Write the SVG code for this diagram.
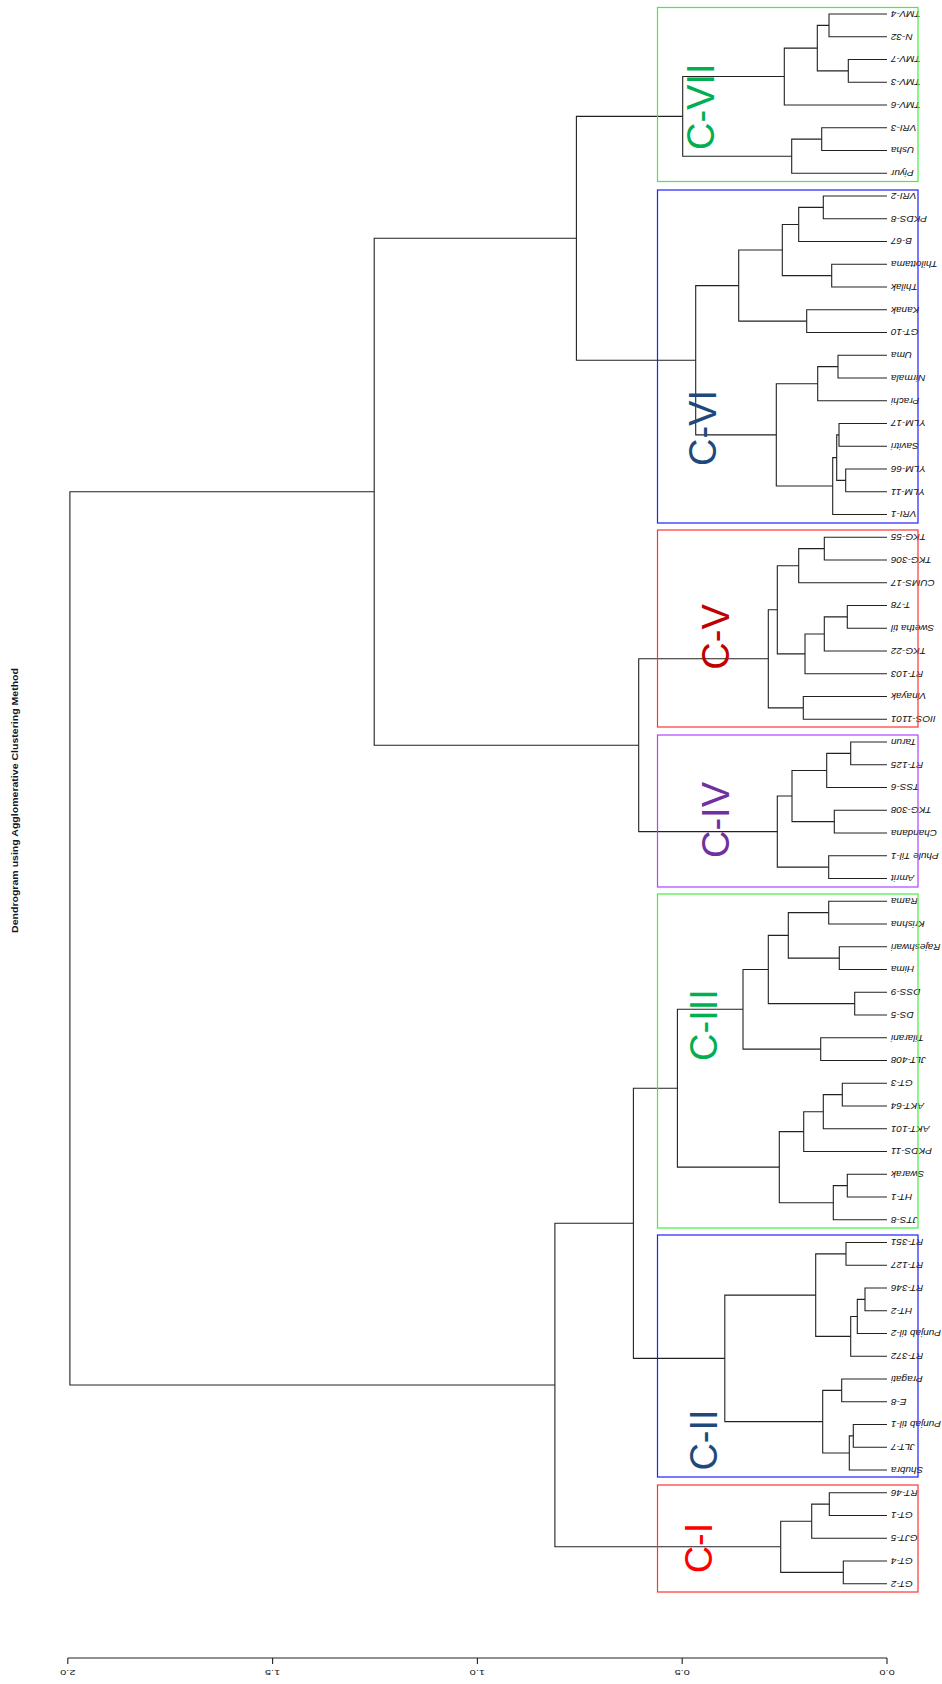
<svg xmlns="http://www.w3.org/2000/svg" width="942" height="1684" viewBox="0 0 942 1684">
<style>
.bg{fill:#fff}
.ln{fill:none;stroke:#222;stroke-width:1.1}
.lbl{font-family:"Liberation Sans",Arial,sans-serif;font-style:italic;font-size:10px;text-anchor:end;fill:#111}
.tick{font-family:"Liberation Sans",Arial,sans-serif;font-size:11px;text-anchor:middle;fill:#111}
.title{font-family:"Liberation Sans",Arial,sans-serif;font-weight:bold;font-size:10.5px;text-anchor:middle;fill:#15152a}
.cl{font-family:"Liberation Sans",Arial,sans-serif;font-size:38px;text-anchor:middle}
.box{fill:none;stroke-width:1.2}
</style>
<rect class="bg" x="0" y="0" width="942" height="1684"/>
<g id="title"><text class="title" transform="translate(18 800.5) rotate(-90) scale(1 0.8)" textLength="265" lengthAdjust="spacingAndGlyphs">Dendrogram using Agglomerative Clustering Method</text></g>
<g id="connectors" class="ln">
<path d="M887 14H829V36.75H887"/>
<path d="M887 59.5H848.3V82.25H887"/>
<path d="M829 25.38H817.3V70.88H848.3"/>
<path d="M817.3 48.13H784.3V105H887"/>
<path d="M887 127.75H821.7V150.5H887"/>
<path d="M821.7 139.13H791.7V173.25H887"/>
<path d="M784.3 76.56H682.7V156.19H791.7"/>
<path d="M887 196H823.3V218.75H887"/>
<path d="M823.3 207.38H798.7V241.5H887"/>
<path d="M887 264.25H831.7V287H887"/>
<path d="M798.7 224.44H782.3V275.63H831.7"/>
<path d="M887 309.75H806.7V332.5H887"/>
<path d="M782.3 250.03H738.7V321.13H806.7"/>
<path d="M887 355.25H838V378H887"/>
<path d="M838 366.63H817.7V400.75H887"/>
<path d="M887 423.5H839V446.25H887"/>
<path d="M887 469H845.7V491.75H887"/>
<path d="M839 434.88H836.7V480.38H845.7"/>
<path d="M836.7 457.63H832.7V514.5H887"/>
<path d="M817.7 383.69H776.3V486.06H832.7"/>
<path d="M738.7 285.58H695.7V434.88H776.3"/>
<path d="M682.7 116.38H576.4V360.23H695.7"/>
<path d="M887 537.25H824.3V560H887"/>
<path d="M824.3 548.63H798.7V582.75H887"/>
<path d="M887 605.5H847.3V628.25H887"/>
<path d="M847.3 616.88H824.3V651H887"/>
<path d="M824.3 633.94H805V673.75H887"/>
<path d="M798.7 565.69H777.3V653.84H805"/>
<path d="M887 696.5H803.3V719.25H887"/>
<path d="M777.3 609.77H768.3V707.88H803.3"/>
<path d="M887 742H850.7V764.75H887"/>
<path d="M850.7 753.38H826.7V787.5H887"/>
<path d="M887 810.25H834.3V833H887"/>
<path d="M826.7 770.44H792V821.63H834.3"/>
<path d="M887 855.75H828.7V878.5H887"/>
<path d="M792 796.03H777.3V867.13H828.7"/>
<path d="M768.3 658.82H638.7V831.58H777.3"/>
<path d="M576.4 238.3H374.2V745.2H638.7"/>
<path d="M887 901.25H828.7V924H887"/>
<path d="M887 946.75H839.3V969.5H887"/>
<path d="M828.7 912.63H788.3V958.13H839.3"/>
<path d="M887 992.25H854.7V1015H887"/>
<path d="M788.3 935.38H768.3V1003.63H854.7"/>
<path d="M887 1037.75H820.7V1060.5H887"/>
<path d="M768.3 969.5H743V1049.13H820.7"/>
<path d="M887 1083.25H842.3V1106H887"/>
<path d="M842.3 1094.63H823.3V1128.75H887"/>
<path d="M823.3 1111.69H803.7V1151.5H887"/>
<path d="M887 1174.25H847.3V1197H887"/>
<path d="M847.3 1185.63H833.3V1219.75H887"/>
<path d="M803.7 1131.59H779.3V1202.69H833.3"/>
<path d="M743 1009.31H677.4V1167.14H779.3"/>
<path d="M887 1242.5H846V1265.25H887"/>
<path d="M887 1288H865V1310.75H887"/>
<path d="M865 1299.38H857.3V1333.5H887"/>
<path d="M857.3 1316.44H850.7V1356.25H887"/>
<path d="M846 1253.88H815.7V1336.34H850.7"/>
<path d="M887 1379H841.7V1401.75H887"/>
<path d="M887 1424.5H853.3V1447.25H887"/>
<path d="M853.3 1435.88H849.3V1470H887"/>
<path d="M841.7 1390.38H822.7V1452.94H849.3"/>
<path d="M815.7 1295.11H724.8V1421.66H822.7"/>
<path d="M677.4 1088.23H633.4V1358.38H724.8"/>
<path d="M887 1492.75H829.3V1515.5H887"/>
<path d="M829.3 1504.13H811.7V1538.25H887"/>
<path d="M887 1561H843.3V1583.75H887"/>
<path d="M811.7 1521.19H780.7V1572.38H843.3"/>
<path d="M633.4 1223.3H554.9V1546.78H780.7"/>
<path d="M374.2 491.75H69.9V1385.04H554.9"/>
</g>
<g id="axis">
<path class="ln" d="M67.8 1658H887M67.8 1658V1664M272.6 1658V1664M477.4 1658V1664M682.2 1658V1664M887 1658V1664"/>
<text class="tick" transform="translate(67.8 1673) rotate(180) scale(1 0.65)" y="4">2.0</text>
<text class="tick" transform="translate(272.6 1673) rotate(180) scale(1 0.65)" y="4">1.5</text>
<text class="tick" transform="translate(477.4 1673) rotate(180) scale(1 0.65)" y="4">1.0</text>
<text class="tick" transform="translate(682.2 1673) rotate(180) scale(1 0.65)" y="4">0.5</text>
<text class="tick" transform="translate(887 1673) rotate(180) scale(1 0.65)" y="4">0.0</text>
</g>
<g id="leaves">
<g id="leaf-0"><text class="lbl" transform="translate(891 14) rotate(180) scale(1 0.85)" y="3.6">TMV-4</text></g>
<g id="leaf-1"><text class="lbl" transform="translate(891 36.75) rotate(180) scale(1 0.85)" y="3.6">N-32</text></g>
<g id="leaf-2"><text class="lbl" transform="translate(891 59.5) rotate(180) scale(1 0.85)" y="3.6">TMV-7</text></g>
<g id="leaf-3"><text class="lbl" transform="translate(891 82.25) rotate(180) scale(1 0.85)" y="3.6">TMV-3</text></g>
<g id="leaf-4"><text class="lbl" transform="translate(891 105) rotate(180) scale(1 0.85)" y="3.6">TMV-6</text></g>
<g id="leaf-5"><text class="lbl" transform="translate(891 127.75) rotate(180) scale(1 0.85)" y="3.6">VRI-3</text></g>
<g id="leaf-6"><text class="lbl" transform="translate(891 150.5) rotate(180) scale(1 0.85)" y="3.6">Usha</text></g>
<g id="leaf-7"><text class="lbl" transform="translate(891 173.25) rotate(180) scale(1 0.85)" y="3.6">Piyur</text></g>
<g id="leaf-8"><text class="lbl" transform="translate(891 196) rotate(180) scale(1 0.85)" y="3.6">VRI-2</text></g>
<g id="leaf-9"><text class="lbl" transform="translate(891 218.75) rotate(180) scale(1 0.85)" y="3.6">PKDS-8</text></g>
<g id="leaf-10"><text class="lbl" transform="translate(891 241.5) rotate(180) scale(1 0.85)" y="3.6">B-67</text></g>
<g id="leaf-11"><text class="lbl" transform="translate(891 264.25) rotate(180) scale(1 0.85)" y="3.6">Thilottama</text></g>
<g id="leaf-12"><text class="lbl" transform="translate(891 287) rotate(180) scale(1 0.85)" y="3.6">Thilak</text></g>
<g id="leaf-13"><text class="lbl" transform="translate(891 309.75) rotate(180) scale(1 0.85)" y="3.6">Kanak</text></g>
<g id="leaf-14"><text class="lbl" transform="translate(891 332.5) rotate(180) scale(1 0.85)" y="3.6">GT-10</text></g>
<g id="leaf-15"><text class="lbl" transform="translate(891 355.25) rotate(180) scale(1 0.85)" y="3.6">Uma</text></g>
<g id="leaf-16"><text class="lbl" transform="translate(891 378) rotate(180) scale(1 0.85)" y="3.6">Nirmala</text></g>
<g id="leaf-17"><text class="lbl" transform="translate(891 400.75) rotate(180) scale(1 0.85)" y="3.6">Prachi</text></g>
<g id="leaf-18"><text class="lbl" transform="translate(891 423.5) rotate(180) scale(1 0.85)" y="3.6">YLM-17</text></g>
<g id="leaf-19"><text class="lbl" transform="translate(891 446.25) rotate(180) scale(1 0.85)" y="3.6">Savitri</text></g>
<g id="leaf-20"><text class="lbl" transform="translate(891 469) rotate(180) scale(1 0.85)" y="3.6">YLM-66</text></g>
<g id="leaf-21"><text class="lbl" transform="translate(891 491.75) rotate(180) scale(1 0.85)" y="3.6">YLM-11</text></g>
<g id="leaf-22"><text class="lbl" transform="translate(891 514.5) rotate(180) scale(1 0.85)" y="3.6">VRI-1</text></g>
<g id="leaf-23"><text class="lbl" transform="translate(891 537.25) rotate(180) scale(1 0.85)" y="3.6">TKG-55</text></g>
<g id="leaf-24"><text class="lbl" transform="translate(891 560) rotate(180) scale(1 0.85)" y="3.6">TKG-306</text></g>
<g id="leaf-25"><text class="lbl" transform="translate(891 582.75) rotate(180) scale(1 0.85)" y="3.6">CUMS-17</text></g>
<g id="leaf-26"><text class="lbl" transform="translate(891 605.5) rotate(180) scale(1 0.85)" y="3.6">T-78</text></g>
<g id="leaf-27"><text class="lbl" transform="translate(891 628.25) rotate(180) scale(1 0.85)" y="3.6">Swetha til</text></g>
<g id="leaf-28"><text class="lbl" transform="translate(891 651) rotate(180) scale(1 0.85)" y="3.6">TKG-22</text></g>
<g id="leaf-29"><text class="lbl" transform="translate(891 673.75) rotate(180) scale(1 0.85)" y="3.6">RT-103</text></g>
<g id="leaf-30"><text class="lbl" transform="translate(891 696.5) rotate(180) scale(1 0.85)" y="3.6">Vinayak</text></g>
<g id="leaf-31"><text class="lbl" transform="translate(891 719.25) rotate(180) scale(1 0.85)" y="3.6">IIOS-1101</text></g>
<g id="leaf-32"><text class="lbl" transform="translate(891 742) rotate(180) scale(1 0.85)" y="3.6">Tarun</text></g>
<g id="leaf-33"><text class="lbl" transform="translate(891 764.75) rotate(180) scale(1 0.85)" y="3.6">RT-125</text></g>
<g id="leaf-34"><text class="lbl" transform="translate(891 787.5) rotate(180) scale(1 0.85)" y="3.6">TSS-6</text></g>
<g id="leaf-35"><text class="lbl" transform="translate(891 810.25) rotate(180) scale(1 0.85)" y="3.6">TKG-308</text></g>
<g id="leaf-36"><text class="lbl" transform="translate(891 833) rotate(180) scale(1 0.85)" y="3.6">Chandana</text></g>
<g id="leaf-37"><text class="lbl" transform="translate(891 855.75) rotate(180) scale(1 0.85)" y="3.6">Phule Til-1</text></g>
<g id="leaf-38"><text class="lbl" transform="translate(891 878.5) rotate(180) scale(1 0.85)" y="3.6">Amrit</text></g>
<g id="leaf-39"><text class="lbl" transform="translate(891 901.25) rotate(180) scale(1 0.85)" y="3.6">Rama</text></g>
<g id="leaf-40"><text class="lbl" transform="translate(891 924) rotate(180) scale(1 0.85)" y="3.6">Krishna</text></g>
<g id="leaf-41"><text class="lbl" transform="translate(891 946.75) rotate(180) scale(1 0.85)" y="3.6">Rajeshwari</text></g>
<g id="leaf-42"><text class="lbl" transform="translate(891 969.5) rotate(180) scale(1 0.85)" y="3.6">Hima</text></g>
<g id="leaf-43"><text class="lbl" transform="translate(891 992.25) rotate(180) scale(1 0.85)" y="3.6">DSS-9</text></g>
<g id="leaf-44"><text class="lbl" transform="translate(891 1015) rotate(180) scale(1 0.85)" y="3.6">DS-5</text></g>
<g id="leaf-45"><text class="lbl" transform="translate(891 1037.75) rotate(180) scale(1 0.85)" y="3.6">Tilarani</text></g>
<g id="leaf-46"><text class="lbl" transform="translate(891 1060.5) rotate(180) scale(1 0.85)" y="3.6">JLT-408</text></g>
<g id="leaf-47"><text class="lbl" transform="translate(891 1083.25) rotate(180) scale(1 0.85)" y="3.6">GT-3</text></g>
<g id="leaf-48"><text class="lbl" transform="translate(891 1106) rotate(180) scale(1 0.85)" y="3.6">AKT-64</text></g>
<g id="leaf-49"><text class="lbl" transform="translate(891 1128.75) rotate(180) scale(1 0.85)" y="3.6">AKT-101</text></g>
<g id="leaf-50"><text class="lbl" transform="translate(891 1151.5) rotate(180) scale(1 0.85)" y="3.6">PKDS-11</text></g>
<g id="leaf-51"><text class="lbl" transform="translate(891 1174.25) rotate(180) scale(1 0.85)" y="3.6">Swarak</text></g>
<g id="leaf-52"><text class="lbl" transform="translate(891 1197) rotate(180) scale(1 0.85)" y="3.6">HT-1</text></g>
<g id="leaf-53"><text class="lbl" transform="translate(891 1219.75) rotate(180) scale(1 0.85)" y="3.6">JTS-8</text></g>
<g id="leaf-54"><text class="lbl" transform="translate(891 1242.5) rotate(180) scale(1 0.85)" y="3.6">RT-351</text></g>
<g id="leaf-55"><text class="lbl" transform="translate(891 1265.25) rotate(180) scale(1 0.85)" y="3.6">RT-127</text></g>
<g id="leaf-56"><text class="lbl" transform="translate(891 1288) rotate(180) scale(1 0.85)" y="3.6">RT-346</text></g>
<g id="leaf-57"><text class="lbl" transform="translate(891 1310.75) rotate(180) scale(1 0.85)" y="3.6">HT-2</text></g>
<g id="leaf-58"><text class="lbl" transform="translate(891 1333.5) rotate(180) scale(1 0.85)" y="3.6">Punjab til-2</text></g>
<g id="leaf-59"><text class="lbl" transform="translate(891 1356.25) rotate(180) scale(1 0.85)" y="3.6">RT-372</text></g>
<g id="leaf-60"><text class="lbl" transform="translate(891 1379) rotate(180) scale(1 0.85)" y="3.6">Pragati</text></g>
<g id="leaf-61"><text class="lbl" transform="translate(891 1401.75) rotate(180) scale(1 0.85)" y="3.6">E-8</text></g>
<g id="leaf-62"><text class="lbl" transform="translate(891 1424.5) rotate(180) scale(1 0.85)" y="3.6">Punjab til-1</text></g>
<g id="leaf-63"><text class="lbl" transform="translate(891 1447.25) rotate(180) scale(1 0.85)" y="3.6">JLT-7</text></g>
<g id="leaf-64"><text class="lbl" transform="translate(891 1470) rotate(180) scale(1 0.85)" y="3.6">Shubra</text></g>
<g id="leaf-65"><text class="lbl" transform="translate(891 1492.75) rotate(180) scale(1 0.85)" y="3.6">RT-46</text></g>
<g id="leaf-66"><text class="lbl" transform="translate(891 1515.5) rotate(180) scale(1 0.85)" y="3.6">GT-1</text></g>
<g id="leaf-67"><text class="lbl" transform="translate(891 1538.25) rotate(180) scale(1 0.85)" y="3.6">GJT-5</text></g>
<g id="leaf-68"><text class="lbl" transform="translate(891 1561) rotate(180) scale(1 0.85)" y="3.6">GT-4</text></g>
<g id="leaf-69"><text class="lbl" transform="translate(891 1583.75) rotate(180) scale(1 0.85)" y="3.6">GT-2</text></g>
</g>
<g id="cluster-VII"><rect class="box" x="657.5" y="7.5" width="260.5" height="174" stroke="#40f040"/><text class="cl" transform="translate(714 106.7) rotate(-90)" fill="#00b050">C-VII</text></g>
<g id="cluster-VI"><rect class="box" x="657.5" y="190" width="260.5" height="333" stroke="#2020ff"/><text class="cl" transform="translate(716 428) rotate(-90)" fill="#1f497d">C-VI</text></g>
<g id="cluster-V"><rect class="box" x="657.5" y="530" width="260.5" height="197" stroke="#ff3333"/><text class="cl" transform="translate(729 637) rotate(-90)" fill="#c00000">C-V</text></g>
<g id="cluster-IV"><rect class="box" x="657.5" y="735" width="260.5" height="152" stroke="#b044ff"/><text class="cl" transform="translate(729 820) rotate(-90)" fill="#7030a0">C-IV</text></g>
<g id="cluster-III"><rect class="box" x="657.5" y="894" width="260.5" height="334" stroke="#40f040"/><text class="cl" transform="translate(717 1025) rotate(-90)" fill="#00b050">C-III</text></g>
<g id="cluster-II"><rect class="box" x="657.5" y="1235" width="260.5" height="242" stroke="#2020ff"/><text class="cl" transform="translate(717 1440) rotate(-90)" fill="#1f497d">C-II</text></g>
<g id="cluster-I"><rect class="box" x="657.5" y="1485" width="260.5" height="107" stroke="#ff3333"/><text class="cl" transform="translate(712 1548) rotate(-90)" fill="#ff0000">C-I</text></g>
</svg>
